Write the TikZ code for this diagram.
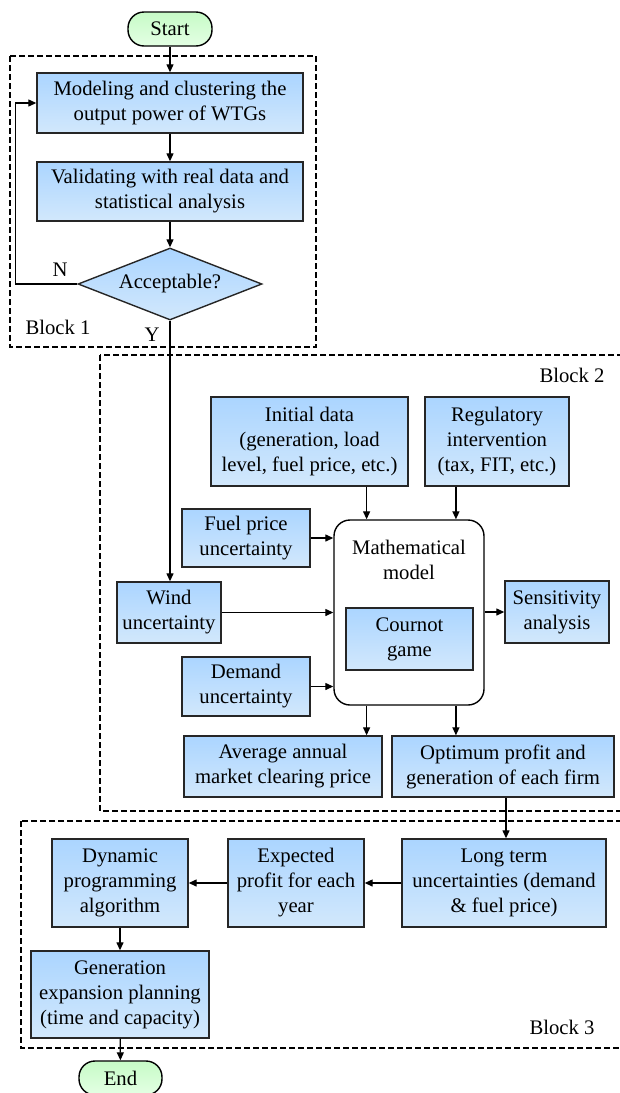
\documentclass[tikz,border=0pt]{standalone}
\usepackage{fontspec}
\setmainfont{Liberation Serif}
\newfontfamily\serifdiag{Liberation Serif}
\usepackage{tikz}
\usetikzlibrary{arrows.meta,shapes.geometric,calc}
\definecolor{blusu}{HTML}{ABD5FF}
\definecolor{blugiu}{HTML}{D2E8FC}
\definecolor{verdesu}{HTML}{C6FBC6}
\definecolor{verdegiu}{HTML}{E4FFE4}

\begin{document}
\begin{tikzpicture}[x=1pt, y=-1pt,
            every node/.style={font=\serifdiag\fontsize{20.7}{25}\selectfont},
            blocco/.style={draw=black!85, line width=1.4pt, top color=blusu,
                bottom color=blugiu, align=center, inner sep=0pt},
            terminale/.style={draw=black, line width=1.4pt, top color=verdesu,
                bottom color=verdegiu, rounded corners=16pt, inner sep=0pt,
                minimum height=34pt},
            riquadro/.style={draw, line width=1.4pt, dash pattern=on 6pt off 3pt},
            freccia/.style={-{Triangle[length=8pt,width=7pt]}, line width=1.3pt}]
        \useasboundingbox (0,0) rectangle (619,1093);

        % Riquadri tratteggiati dei blocchi
        \draw[riquadro] (10,56) rectangle (316,347);
        \draw[riquadro] (100,355) rectangle (630,811);
        \draw[riquadro] (21,821) rectangle (630,1048);

        % Inizio e fine
        \node[terminale, minimum width=84pt] (start) at (170,29) {Start};
        \node[terminale, minimum width=83pt] (end) at (120.5,1078) {End};

        % Modello matematico (contenitore)
        \node[draw, line width=1.4pt, fill=white, rounded corners=16pt,
            minimum width=150pt, minimum height=185pt] (math) at (409,612.5) {};
        \node[align=center] (mtitolo) at (409,560) {Mathematical\\model};

        % Blocchi azzurri: nome/x/y/larghezza/altezza/testo
        \foreach \nome/\cx/\cy/\w/\h/\testo in {
                model/170/103/266/60/{Modeling and clustering the\\output power of WTGs},
                valid/170/191.5/266/59/{Validating with real data and\\statistical analysis},
                init/309.5/441.5/197/89/{Initial data\\(generation, load\\level, fuel price, etc.)},
                regul/497/441.5/144/89/{Regulatory\\intervention\\(tax, FIT, etc.)},
                fuel/246/538/128/58/{Fuel price\\uncertainty},
                wind/169/612.5/104/61/{Wind\\uncertainty},
                cournot/409.5/639/127/62/{Cournot\\game},
                sens/557/612/104/62/{Sensitivity\\analysis},
                demand/246/686.5/128/59/{Demand\\uncertainty},
                avg/283/766.5/198/61/{Average annual\\market clearing price},
                opt/503/766.5/222/61/{Optimum profit and\\generation of each firm},
                long/504/883/204/88/{Long term\\uncertainties (demand\\\& fuel price)},
                exp/296/883/136/88/{Expected\\profit for each\\year},
                dyn/120/883/136/88/{Dynamic\\programming\\algorithm},
                gen/120/994.5/178/87/{Generation\\expansion planning\\(time and capacity)}}{
                \node[blocco, minimum width=\w, minimum height=\h] (\nome) at (\cx,\cy) {\testo};
            }

        % Decisione
        \node[diamond, draw=black!85, line width=1.4pt, top color=blusu,
            bottom color=blugiu, aspect=2.55, minimum width=184pt,
            minimum height=72pt, inner sep=0pt] (acc) at (170,284) {Acceptable?};

        % Punti di attacco sul modello matematico
        \coordinate (mn1) at ($(math.north west)!0.22!(math.north east)$);
        \coordinate (mn2) at ($(math.north west)!0.81!(math.north east)$);
        \coordinate (ms1) at ($(math.south west)!0.22!(math.south east)$);
        \coordinate (ms2) at ($(math.south west)!0.81!(math.south east)$);

        % Blocco 1
        \draw[freccia] (start) -- (model);
        \draw[freccia] (model) -- (valid);
        \draw[freccia] (valid) -- (acc.north);
        \draw[freccia] (acc.west) -- ++(-62,0) |- (model.west);
        \draw[freccia] (acc.south) -- (acc.south |- wind.north);

        % Blocco 2
        \draw[freccia] (init.south -| mn1) -- (mn1);
        \draw[freccia] (regul.south -| mn2) -- (mn2);
        \draw[freccia] (fuel.east) -- (fuel.east -| math.west);
        \draw[freccia] (wind.east) -- (wind.east -| math.west);
        \draw[freccia] (demand.east) -- (demand.east -| math.west);
        \draw[freccia] (math.east |- sens.west) -- (sens.west);
        \draw[freccia] (ms1) -- (ms1 |- avg.north);
        \draw[freccia] (ms2) -- (ms2 |- opt.north);

        % Blocco 3
        \draw[freccia] (opt.south -| 506,0) -- (long.north -| 506,0);
        \draw[freccia] (long.west) -- (exp.east);
        \draw[freccia] (exp.west) -- (dyn.east);
        \draw[freccia] (dyn) -- (gen);
        \draw[freccia] (gen) -- (end);

        % Etichette
        \node (etN) at (60,270) {N};
        \node (etY) at (152,335) {Y};
        \node (blk1) at (58,327) {Block 1};
        \node (blk2) at (572,375) {Block 2};
        \node (blk3) at (562,1027) {Block 3};
    \end{tikzpicture}
\end{document}
